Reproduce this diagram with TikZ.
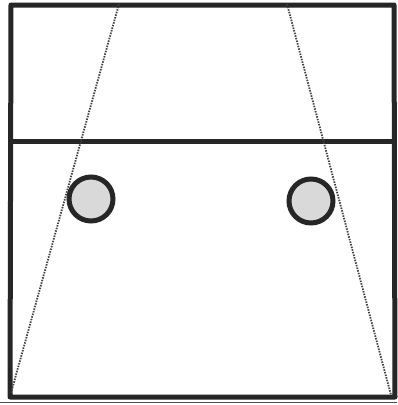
\documentclass[tikz,border=0pt]{standalone}
\usetikzlibrary{patterns}
\begin{document}
\begin{tikzpicture}[x=1pt,y=-1pt,
  frame/.style={line width=5pt,draw=black!85},
  sight/.style={line width=1.8pt,dash pattern=on 1.5pt off 1.2pt,draw=black!75},
  ball/.style={circle,minimum size=44pt,inner sep=0pt,line width=5pt,draw=black!85,fill=black!15}]
\useasboundingbox (0,0) rectangle (397,405);
\fill[white] (0,0) rectangle (397,405);
% frame
\draw[frame,line join=round] (11,5) -- (394,5) -- (395,397) -- (10,397) -- cycle;
\draw[frame] (11,141) -- (394,141);
\draw[line width=1.6pt,black!70] (0,402.5) -- (397,402.5);
% sight lines
\draw[sight] (119,4) -- (11,393);
\draw[sight] (287,4) -- (391,395);
% balls
\node[ball] (b1) at (91,199) {};
\node[ball] (b2) at (311,201) {};
\end{tikzpicture}
\end{document}
